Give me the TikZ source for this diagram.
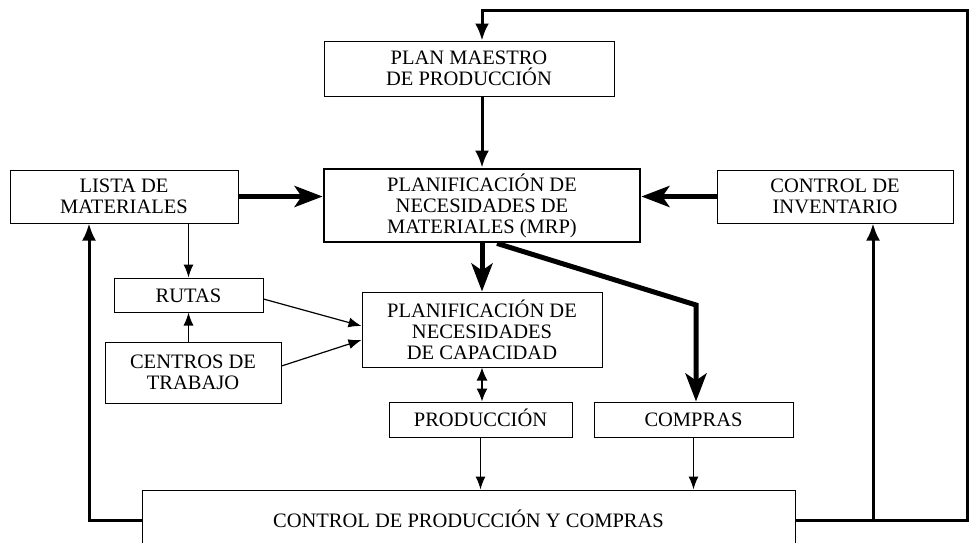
\documentclass[tikz,border=0pt]{standalone}
\usepackage{fontspec}
\setmainfont{Liberation Serif}
\usetikzlibrary{arrows.meta}

\tikzset{
    box/.style={draw, line width=1pt, align=center, inner sep=0pt},
    mainbox/.style={box, line width=2.8pt},
    oneline/.style={text height=16pt, text depth=2pt},
    bigarrow/.style={line width=5pt, -{Stealth[length=28pt, width=21pt, inset=7pt]}},
    feedarrow/.style={line width=3pt, -{Latex[length=17pt, width=14pt]}},
    thinarrow/.style={line width=1.2pt, -{Latex[length=13pt, width=10pt]}},
    bothways/.style={line width=1.2pt, {Latex[length=13pt, width=11pt]}-{Latex[length=13pt, width=11pt]}}
}

\begin{document}
\begin{tikzpicture}[x=1pt, y=-1pt, font=\fontsize{20.5}{21}\selectfont]
            \clip (0,0) rectangle (969,542);

            %nodes
            \node[box, minimum width=290, minimum height=55] (plan) at (469, 68.5) {PLAN MAESTRO\\DE PRODUCCIÓN};
            \node[mainbox, minimum width=316, minimum height=73] (mrp) at (482, 205.5) {PLANIFICACIÓN DE\\NECESIDADES DE\\MATERIALES (MRP)};
            \node[box, minimum width=228, minimum height=53] (lista) at (124, 196.5) {LISTA DE\\MATERIALES};
            \node[box, minimum width=236, minimum height=53] (inv) at (835, 196.5) {CONTROL DE\\INVENTARIO};
            \node[box, oneline, minimum width=149, minimum height=34] (rutas) at (188.5, 295) {RUTAS};
            \node[box, minimum width=176, minimum height=61] (centros) at (193, 372.5) {CENTROS DE\\TRABAJO};
            \node[box, minimum width=240, minimum height=75] (cap) at (482, 329.5) {PLANIFICACIÓN DE\\NECESIDADES\\DE CAPACIDAD};
            \node[box, oneline, minimum width=183, minimum height=35] (prod) at (480.5, 419.5) {PRODUCCIÓN};
            \node[box, oneline, minimum width=199, minimum height=35] (compras) at (693.5, 419.5) {COMPRAS};
            \node[box, oneline, minimum width=653, minimum height=60] (cpc) at (468.5, 520) {CONTROL DE PRODUCCIÓN Y COMPRAS};

            \coordinate (lfb) at (89, 520);
            \coordinate (rfb) at (967, 520);
            \coordinate (tfb) at (967, 10);
            \coordinate (ifb) at (873, 520);
            \coordinate (knee) at (696, 305);

            %edges
            \draw[feedarrow] (cpc.east) -- (rfb) -- (tfb) -| (plan.north -| mrp.north);
            \draw[feedarrow] (ifb) -- (ifb |- inv.south);
            \draw[feedarrow] (cpc.west) -- (lfb) -- (lfb |- lista.south);
            \draw[feedarrow] (plan.south -| mrp.north) -- (mrp.north);
            \draw[bigarrow] (lista.east) -- (lista.east -| mrp.west);
            \draw[bigarrow] (inv.west) -- (inv.west -| mrp.east);
            \draw[bigarrow] (mrp.south -| cap.north) -- (cap.north);
            \draw[bigarrow] ([xshift=15pt]mrp.south) -- (knee) -- (knee |- compras.north);
            \draw[thinarrow] (lista.south -| rutas.north) -- (rutas.north);
            \draw[thinarrow] (centros.north -| rutas.south) -- (rutas.south);
            \draw[thinarrow] ([yshift=-4pt]rutas.east) -- ([yshift=3.5pt]cap.west);
            \draw[thinarrow] ([yshift=6.5pt]centros.east) -- ([yshift=-10.5pt]cap.west);
            \draw[bothways] (cap.south) -- (cap.south |- prod.north);
            \draw[thinarrow] (prod.south) -- (prod.south |- cpc.north);
            \draw[thinarrow] (compras.south) -- (compras.south |- cpc.north);
        \end{tikzpicture}
\end{document}
